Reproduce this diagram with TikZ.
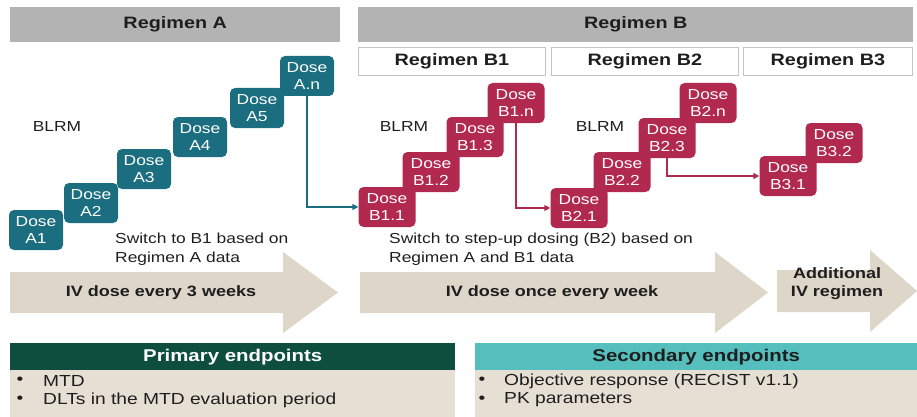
\documentclass[tikz,border=0pt]{standalone}
\usepackage{fontspec}
\setmainfont{Liberation Sans}[FakeStretch=1.2]
\usetikzlibrary{arrows.meta}
\definecolor{tealbox}{HTML}{1B6E7F}
\definecolor{crimbox}{HTML}{B2294F}
\definecolor{hdrgray}{HTML}{B3B3B3}
\definecolor{subborder}{HTML}{C4C4C4}
\definecolor{arrowbeige}{HTML}{DDD6C9}
\definecolor{bodybeige}{HTML}{E6DFD3}
\definecolor{pgreen}{HTML}{0D4E3E}
\definecolor{steal}{HTML}{55BFBE}
\definecolor{txtdark}{HTML}{1E1E1E}
\newcommand\myfs[2]{\fontsize{#1}{#2}\selectfont}
\begin{document}
\begin{tikzpicture}[x=1pt,y=-1pt,
  hdr/.style={fill=hdrgray, inner sep=0, anchor=north west, font=\myfs{16.5}{19}\bfseries, text=txtdark},
  subhdr/.style={draw=subborder, line width=0.8pt, fill=white, inner sep=0, anchor=north west, minimum height=28, font=\myfs{16.5}{19}\bfseries, text=txtdark},
  dosebox/.style={rounded corners=5pt, inner sep=0, minimum height=40, align=center, text=white, font=\myfs{14.5}{16.5}},
  doseA/.style={dosebox, fill=tealbox, minimum width=54},
  doseB/.style={dosebox, fill=crimbox, minimum width=57},
  plain/.style={inner sep=0, text=txtdark, font=\myfs{14.5}{19}},
  arrowtxt/.style={inner sep=0, text=txtdark, align=center, font=\myfs{15}{18}\bfseries},
  conn/.style={line width=1.5pt, -{Triangle[length=6pt,width=6pt]}},
  endhdr/.style={inner sep=0, anchor=north west, minimum height=27, font=\myfs{17}{19}\bfseries},
  endbody/.style={fill=bodybeige, inner sep=0, anchor=north west, minimum height=47},
  bul/.style={inner sep=0, text=txtdark, font=\myfs{16}{19}},
  bultxt/.style={inner sep=0, anchor=west, text=txtdark, font=\myfs{16}{19}}
]
\useasboundingbox (0,0) rectangle (917,417);

% headers
\node[hdr, minimum width=330, minimum height=35] (hA) at (10,7) {Regimen A};
\node[hdr, minimum width=555, minimum height=35] (hB) at (358,7) {Regimen B};
\node[subhdr, minimum width=187] (hB1) at (358,47) {Regimen B1};
\node[subhdr, minimum width=187] (hB2) at (551,47) {Regimen B2};
\node[subhdr, minimum width=169] (hB3) at (743,47) {Regimen B3};

% block arrows
\fill[arrowbeige] (10,272) -- (283,272) -- (283,252) -- (338,292.5) -- (283,333) -- (283,313) -- (10,313) -- cycle;
\fill[arrowbeige] (360,272) -- (715,272) -- (715,252) -- (768,292.5) -- (715,333) -- (715,313) -- (360,313) -- cycle;
\fill[arrowbeige] (777,270) -- (870,270) -- (870,250) -- (917,291) -- (870,332) -- (870,312) -- (777,312) -- cycle;
\node[arrowtxt] (t1) at (161,293) {IV dose every 3 weeks};
\node[arrowtxt] (t2) at (552,293) {IV dose once every week};
\node[arrowtxt] (t3) at (837,284) {Additional\\IV regimen};

% BLRM labels
\node[plain] (blA) at (57,127) {BLRM};
\node[plain] (blB1) at (404,127) {BLRM};
\node[plain] (blB2) at (600,127) {BLRM};

% switch texts
\node[plain, anchor=north west, align=left] (swA) at (115,233) {Switch to B1 based on\\Regimen A data};
\node[plain, anchor=north west, align=left] (swB) at (389,233) {Switch to step-up dosing (B2) based on\\Regimen A and B1 data};

% regimen A doses
\node[doseA] (A1) at (36,230) {Dose\\A1};
\node[doseA] (A2) at (91,203) {Dose\\A2};
\node[doseA] (A3) at (144,169) {Dose\\A3};
\node[doseA] (A4) at (200,137) {Dose\\A4};
\node[doseA] (A5) at (257,108) {Dose\\A5};
\node[doseA] (An) at (307,76) {Dose\\A.n};

% regimen B1 doses
\node[doseB] (B11) at (387,207) {Dose\\B1.1};
\node[doseB] (B12) at (431,172) {Dose\\B1.2};
\node[doseB] (B13) at (475,137) {Dose\\B1.3};
\node[doseB] (B1n) at (516,103) {Dose\\B1.n};

% regimen B2 doses
\node[doseB] (B21) at (579,208) {Dose\\B2.1};
\node[doseB] (B22) at (622,172) {Dose\\B2.2};
\node[doseB] (B23) at (667,138) {Dose\\B2.3};
\node[doseB] (B2n) at (708,103) {Dose\\B2.n};

% regimen B3 doses
\node[doseB] (B31) at (788,176) {Dose\\B3.1};
\node[doseB] (B32) at (834,143) {Dose\\B3.2};

% connectors
\draw[conn, tealbox] (An.south) |- (B11.west);
\draw[conn, crimbox] (B1n.south) |- (B21.west);
\draw[conn, crimbox] (B23.south) |- (B31.west);

% endpoints
\node[endhdr, fill=pgreen, text=white, minimum width=445] (pH) at (10,343) {Primary endpoints};
\node[endbody, minimum width=445] (pB) at (10,370) {};
\node[endhdr, fill=steal, text=txtdark, minimum width=442] (sH) at (475,343) {Secondary endpoints};
\node[endbody, minimum width=442] (sB) at (475,370) {};

\node[bul] (pb1) at (20,381) {•};
\node[bultxt] (pt1) at (43,381) {MTD};
\node[bul] (pb2) at (20,400) {•};
\node[bultxt] (pt2) at (43,400) {DLTs in the MTD evaluation period};
\node[bul] (sb1) at (482,381) {•};
\node[bultxt] (st1) at (504,381) {Objective response (RECIST v1.1)};
\node[bul] (sb2) at (482,400) {•};
\node[bultxt] (st2) at (504,400) {PK parameters};
\end{tikzpicture}
\end{document}
